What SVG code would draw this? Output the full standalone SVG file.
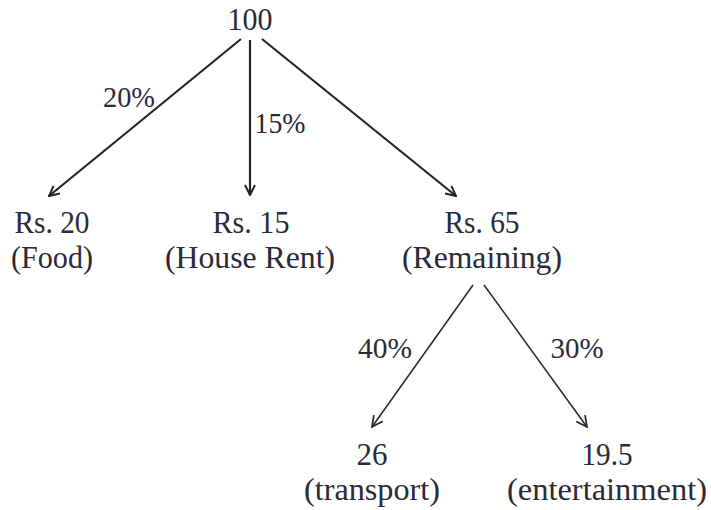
<svg xmlns="http://www.w3.org/2000/svg" width="711" height="510" viewBox="0 0 711 510">
<defs>
<style>
text{font-family:"Liberation Serif",serif;font-size:31px;fill:#2a2a38;text-anchor:middle}
.lbl{font-size:29px}
.c1{stroke:#262626;stroke-width:2.2;fill:none}
.c2{stroke:#262626;stroke-width:1.5;fill:none}
</style>
<marker id="ah" viewBox="0 0 12 12" refX="11" refY="6" markerWidth="12" markerHeight="12" markerUnits="userSpaceOnUse" orient="auto">
<polyline points="1,1 11,6 1,11" fill="none" stroke="#262626" stroke-width="2"/>
</marker>
<marker id="ah2" viewBox="0 0 12 12" refX="11" refY="6" markerWidth="13" markerHeight="13" markerUnits="userSpaceOnUse" orient="auto">
<polyline points="1,1 11,6 1,11" fill="none" stroke="#262626" stroke-width="1.6"/>
</marker>
</defs>
<rect width="711" height="510" fill="#fff"/>
<g id="connectors">
<line class="c1" x1="241" y1="39" x2="49" y2="196" marker-end="url(#ah)"/>
<line class="c1" x1="250" y1="40" x2="250" y2="195" marker-end="url(#ah)"/>
<line class="c1" x1="262" y1="39" x2="456" y2="196" marker-end="url(#ah)"/>
<line class="c2" x1="473" y1="285" x2="372" y2="427" marker-end="url(#ah2)"/>
<line class="c2" x1="484" y1="285" x2="587" y2="427" marker-end="url(#ah2)"/>
<text x="129" y="107" textLength="52" lengthAdjust="spacingAndGlyphs" class="lbl">20%</text>
<text x="280" y="133" textLength="51" lengthAdjust="spacingAndGlyphs" class="lbl">15%</text>
<text x="385" y="358" textLength="54" lengthAdjust="spacingAndGlyphs" class="lbl">40%</text>
<text x="577" y="358" textLength="53" lengthAdjust="spacingAndGlyphs" class="lbl">30%</text>
</g>
<g id="n100"><text x="250" y="30" textLength="45" lengthAdjust="spacingAndGlyphs">100</text></g>
<g id="food"><text x="52" y="233" textLength="75" lengthAdjust="spacingAndGlyphs">Rs. 20</text><text x="52" y="268" textLength="82" lengthAdjust="spacingAndGlyphs">(Food)</text></g>
<g id="rent"><text x="251" y="233" textLength="77" lengthAdjust="spacingAndGlyphs">Rs. 15</text><text x="250" y="268" textLength="170" lengthAdjust="spacingAndGlyphs">(House Rent)</text></g>
<g id="remaining"><text x="482" y="233" textLength="75" lengthAdjust="spacingAndGlyphs">Rs. 65</text><text x="482" y="268" textLength="160" lengthAdjust="spacingAndGlyphs">(Remaining)</text></g>
<g id="transport"><text x="372" y="465" textLength="31" lengthAdjust="spacingAndGlyphs">26</text><text x="372" y="500" textLength="136" lengthAdjust="spacingAndGlyphs">(transport)</text></g>
<g id="entertainment"><text x="607" y="465" textLength="51" lengthAdjust="spacingAndGlyphs">19.5</text><text x="607" y="500" textLength="200" lengthAdjust="spacingAndGlyphs">(entertainment)</text></g>
</svg>
